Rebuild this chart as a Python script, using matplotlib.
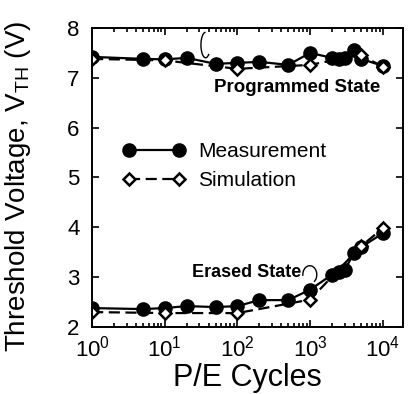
import numpy as np
import matplotlib
matplotlib.use("Agg")
import matplotlib.pyplot as plt
from matplotlib.patches import Arc
from matplotlib.ticker import LogLocator, NullFormatter

plt.rcParams['font.family'] = ['Liberation Sans', 'DejaVu Sans']
plt.rcParams['mathtext.fontset'] = 'custom'
plt.rcParams['mathtext.rm'] = 'Liberation Sans'
plt.rcParams['mathtext.it'] = 'Liberation Sans'

# Measured data (both states)
meas_cycles = [1, 5, 10, 20, 50, 100, 200, 500, 1000, 2000, 2500, 3000, 4000, 5000, 10000]
meas_prog = [7.42, 7.38, 7.37, 7.40, 7.28, 7.30, 7.32, 7.26, 7.50, 7.40, 7.38, 7.40, 7.56, 7.38, 7.24]
meas_erase = [2.38, 2.36, 2.38, 2.42, 2.40, 2.42, 2.54, 2.54, 2.75, 3.05, 3.10, 3.15, 3.48, 3.60, 3.88]

# Simulated data
sim_cycles = [1, 10, 100, 1000, 5000, 10000]
sim_prog = [7.38, 7.35, 7.18, 7.26, 7.46, 7.22]
sim_erase = [2.30, 2.28, 2.28, 2.55, 3.62, 3.98]

fig = plt.figure(figsize=(4.13, 3.94), dpi=100)
ax = fig.add_axes([0.223, 0.170, 0.753, 0.759])

mkw = dict(color='black', marker='o', markersize=9.5, linewidth=1.6)
skw = dict(color='black', marker='D', markersize=6.5, markerfacecolor='white',
           markeredgewidth=1.8, linewidth=1.6, linestyle=(0, (5, 2.5)))

ax.plot(meas_cycles, meas_prog, label='Measurement', **mkw)
ax.plot(meas_cycles, meas_erase, **mkw)
ax.plot(sim_cycles, sim_prog, label='Simulation', **skw)
ax.plot(sim_cycles, sim_erase, **skw)

ax.set_xscale('log')
ax.set_xlim(1, 1.9e4)
ax.set_ylim(2, 8)
ax.set_yticks([2, 3, 4, 5, 6, 7, 8])
ax.xaxis.set_major_locator(LogLocator(base=10, numticks=10))
ax.xaxis.set_minor_locator(LogLocator(base=10, subs=np.arange(2, 10), numticks=50))
ax.xaxis.set_minor_formatter(NullFormatter())

ax.tick_params(which='both', direction='in', top=True, right=True, width=1.2)
ax.tick_params(which='major', length=5, labelsize=16)
ax.tick_params(axis='y', pad=9)
ax.tick_params(axis='x', pad=6)
ax.tick_params(which='minor', length=3)
for s in ax.spines.values():
    s.set_linewidth(1.4)

ax.set_xlabel('P/E Cycles', fontsize=22, labelpad=1)
ax.set_ylabel(r'Threshold Voltage, V$_{\mathrm{TH}}$ (V)', fontsize=20)
ax.yaxis.set_label_coords(-0.19, 0.47)

ax.legend(loc='center left', bbox_to_anchor=(0.1, 0.538), frameon=False,
          numpoints=2, handlelength=3.0, handletextpad=0.6, labelspacing=0.45,
          borderaxespad=0, borderpad=0, fontsize=15)

ax.text(0.659, 0.80, 'Programmed State', transform=ax.transAxes,
        fontsize=13.5, fontweight='bold', ha='center', va='center')
ax.text(0.497, 0.181, 'Erased State', transform=ax.transAxes,
        fontsize=13, fontweight='bold', ha='center', va='center')

# bracket marks pointing at the curves
ax.add_patch(Arc((0.365, 0.943), 0.03, 0.085, theta1=90, theta2=290,
                 transform=ax.transAxes, color='black', linewidth=1.0))
ax.add_patch(Arc((0.70, 0.175), 0.045, 0.06, theta1=-60, theta2=190,
                 transform=ax.transAxes, color='black', linewidth=1.0))

fig.savefig('out.png', dpi=100)
